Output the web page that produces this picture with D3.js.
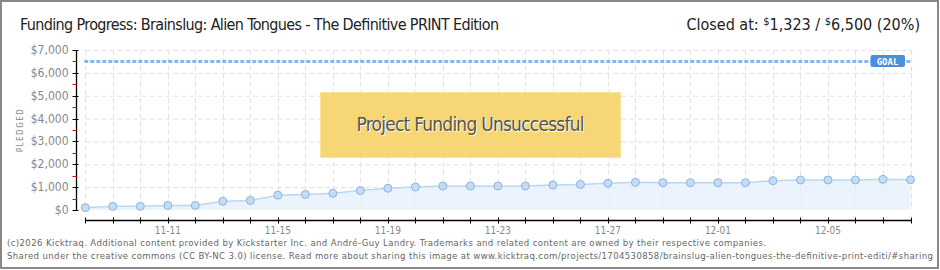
<!DOCTYPE html>
<html>
<head>
<meta charset="utf-8">
<script src="https://cdn.jsdelivr.net/npm/d3@7"></script>
<style>
  body { margin: 0; background: #fff; }
  svg { display: block; }
</style>
</head>
<body>
<div id="chart"></div>
<script>
// data
var days = ["11-08","11-09","11-10","11-11","11-12","11-13","11-14","11-15","11-16","11-17",
            "11-18","11-19","11-20","11-21","11-22","11-23","11-24","11-25","11-26","11-27",
            "11-28","11-29","11-30","12-01","12-02","12-03","12-04","12-05","12-06","12-07","12-08"];
var pledged = [100, 160, 160, 200, 200, 380, 420, 650, 680, 730,
               850, 950, 1005, 1050, 1050, 1050, 1050, 1095, 1120, 1165,
               1210, 1195, 1195, 1195, 1195, 1285, 1313, 1313, 1313, 1340, 1323];
var tickDays = ["11-11","11-15","11-19","11-23","11-27","12-01","12-05"];
var yTicks = [0, 1000, 2000, 3000, 4000, 5000, 6000, 7000];
var yMinor = [500, 1500, 2500, 3500, 4500, 5500, 6500];
var goal = 6500;

var width = 940, height = 270;
var font = "'Liberation Sans Narrow', 'DejaVu Sans Condensed', sans-serif";

var svg = d3.select("#chart")
	.append("svg")
	.attr("width", width)
	.attr("height", height);

// frame
svg.append("rect")
	.attr("x", 1).attr("y", 1)
	.attr("width", 937).attr("height", 267)
	.attr("fill", "#fff")
	.attr("stroke", "#888")
	.attr("stroke-width", 2);

var x = d3.scalePoint().domain(days).range([85.3, 910.5]);
var y = d3.scaleLinear().domain([0, 7000]).range([210, 50]);

// grid
svg.append("g").selectAll("line").data(yTicks.slice(1)).join("line")
	.attr("x1", 85).attr("x2", 912)
	.attr("y1", function(d){ return y(d) + 0.5 }).attr("y2", function(d){ return y(d) + 0.5 })
	.attr("stroke", "#e2e2e2").attr("stroke-dasharray", "5,3");
svg.append("g").selectAll("line").data(days).join("line")
	.attr("x1", function(d){ return Math.round(x(d)) + 0.5 })
	.attr("x2", function(d){ return Math.round(x(d)) + 0.5 })
	.attr("y1", 50).attr("y2", 210)
	.attr("stroke", "#e2e2e2").attr("stroke-dasharray", "5,3");

// area + line
var area = d3.area()
	.x(function(d, i){ return x(days[i]) })
	.y0(y(0))
	.y1(function(d){ return y(d) });
svg.append("path").datum(pledged)
	.attr("d", area)
	.attr("fill", "#e6f0fb").attr("fill-opacity", 0.8);

var line = d3.line()
	.x(function(d, i){ return x(days[i]) })
	.y(function(d){ return y(d) });
svg.append("path").datum(pledged)
	.attr("d", line)
	.attr("fill", "none")
	.attr("stroke", "#b9d7f4")
	.attr("stroke-width", 1.5);

// goal line
svg.append("line")
	.attr("x1", x(days[0]) - 1).attr("x2", 912)
	.attr("y1", y(goal)).attr("y2", y(goal))
	.attr("stroke", "#86b6ea").attr("stroke-width", 3)
	.attr("stroke-dasharray", "4,2");
svg.append("rect")
	.attr("x", 870.5).attr("y", 55)
	.attr("width", 34.5).attr("height", 12)
	.attr("rx", 2)
	.attr("fill", "#4a8fdc");
svg.append("text")
	.text("GOAL")
	.attr("x", 887.5).attr("y", 64.5)
	.attr("text-anchor", "middle")
	.attr("fill", "#fff")
	.style("font-family", "'DejaVu Sans Mono', monospace")
	.style("font-size", "9px")
	.style("font-weight", "bold");

// points
svg.append("g").selectAll("circle").data(pledged).join("circle")
	.attr("cx", function(d, i){ return x(days[i]) })
	.attr("cy", function(d){ return y(d) })
	.attr("r", 4)
	.attr("fill", "#c3dcf7")
	.attr("stroke", "#8fb3dc")
	.attr("stroke-width", 1);

// y axis
var yAxis = svg.append("g").attr("transform", "translate(76.5,0)");
yAxis.append("line").attr("y1", 50).attr("y2", 210.5).attr("stroke", "#000").attr("stroke-width", 1.3);
yAxis.selectAll(".maj").data(yTicks).join("line")
	.attr("x1", -4).attr("x2", 2)
	.attr("y1", function(d){ return Math.round(y(d)) + 0.5 })
	.attr("y2", function(d){ return Math.round(y(d)) + 0.5 })
	.attr("stroke", "#000");
yAxis.selectAll(".min").data(yMinor).join("line")
	.attr("x1", -4).attr("x2", 0)
	.attr("y1", function(d){ return Math.round(y(d)) + 0.5 })
	.attr("y2", function(d){ return Math.round(y(d)) + 0.5 })
	.attr("stroke", "#e00");
yAxis.selectAll("text").data(yTicks).join("text")
	.text(function(d){ return "$" + d3.format(",")(d) })
	.attr("x", -8)
	.attr("y", function(d){ return y(d) + 4 })
	.attr("text-anchor", "end")
	.attr("fill", "#888")
	.style("font-family", font)
	.style("font-size", "12px");

svg.append("text")
	.text("PLEDGED")
	.attr("transform", "translate(23,130) rotate(-90)")
	.attr("text-anchor", "middle")
	.attr("fill", "#888")
	.style("font-family", font)
	.style("font-size", "8px")
	.style("letter-spacing", "1.5px");

// x axis
var xAxis = svg.append("g").attr("transform", "translate(0,220.5)");
xAxis.append("line").attr("x1", x(days[0])).attr("x2", x(days[days.length - 1]) + 0.5)
	.attr("stroke", "#000").attr("stroke-width", 1.3);
xAxis.selectAll(".tk").data(days).join("line")
	.attr("x1", function(d){ return Math.round(x(d)) + 0.5 })
	.attr("x2", function(d){ return Math.round(x(d)) + 0.5 })
	.attr("y1", -3).attr("y2", 3)
	.attr("stroke", "#000");
xAxis.selectAll("text").data(tickDays).join("text")
	.text(function(d){ return d })
	.attr("x", function(d){ return x(d) })
	.attr("y", 13)
	.attr("text-anchor", "middle")
	.attr("fill", "#888")
	.style("font-family", font)
	.style("font-size", "10px");

// unsuccessful box
svg.append("rect")
	.attr("x", 320.5).attr("y", 92.5)
	.attr("width", 300).attr("height", 65)
	.attr("fill", "#f7d46f").attr("fill-opacity", 0.95)
	.attr("stroke", "#fbe294");
svg.append("text")
	.text("Project Funding Unsuccessful")
	.attr("x", 471.5).attr("y", 132)
	.attr("text-anchor", "middle")
	.attr("fill", "#fff")
	.attr("textLength", 228)
	.style("font-family", font)
	.style("font-size", "19px");
svg.append("text")
	.text("Project Funding Unsuccessful")
	.attr("x", 470.5).attr("y", 131)
	.attr("text-anchor", "middle")
	.attr("fill", "#555")
	.attr("textLength", 228)
	.style("font-family", font)
	.style("font-size", "19px");

// titles
svg.append("text")
	.text("Funding Progress: Brainslug: Alien Tongues - The Definitive PRINT Edition")
	.attr("x", 20).attr("y", 30)
	.attr("textLength", 479)
	.attr("fill", "#222")
	.style("font-family", font)
	.style("font-size", "16px");

var closedText = svg.append("text")
	.attr("x", 920).attr("y", 30)
	.attr("text-anchor", "end")
	.attr("fill", "#222")
	.style("font-family", font)
	.style("font-size", "16px");
closedText.append("tspan").text("Closed at: ");
closedText.append("tspan").text("$").style("font-size", "11px").attr("dy", -5);
closedText.append("tspan").text("1,323 / ").attr("dy", 5);
closedText.append("tspan").text("$").style("font-size", "11px").attr("dy", -5);
closedText.append("tspan").text("6,500 (20%)").attr("dy", 5);

// footer
svg.append("text")
	.text("(c)2026 Kicktraq. Additional content provided by Kickstarter Inc. and André-Guy Landry. Trademarks and related content are owned by their respective companies.")
	.attr("x", 7).attr("y", 246)
	.attr("textLength", 759)
	.attr("fill", "#666")
	.style("font-family", "'DejaVu Sans Condensed', sans-serif")
	.style("font-size", "9.5px");
svg.append("text")
	.text("Shared under the creative commons (CC BY-NC 3.0) license. Read more about sharing this image at www.kicktraq.com/projects/1704530858/brainslug-alien-tongues-the-definitive-print-editi/#sharing")
	.attr("x", 7).attr("y", 259)
	.attr("textLength", 926)
	.attr("fill", "#666")
	.style("font-family", "'DejaVu Sans Condensed', sans-serif")
	.style("font-size", "9.5px");
</script>
</body>
</html>
